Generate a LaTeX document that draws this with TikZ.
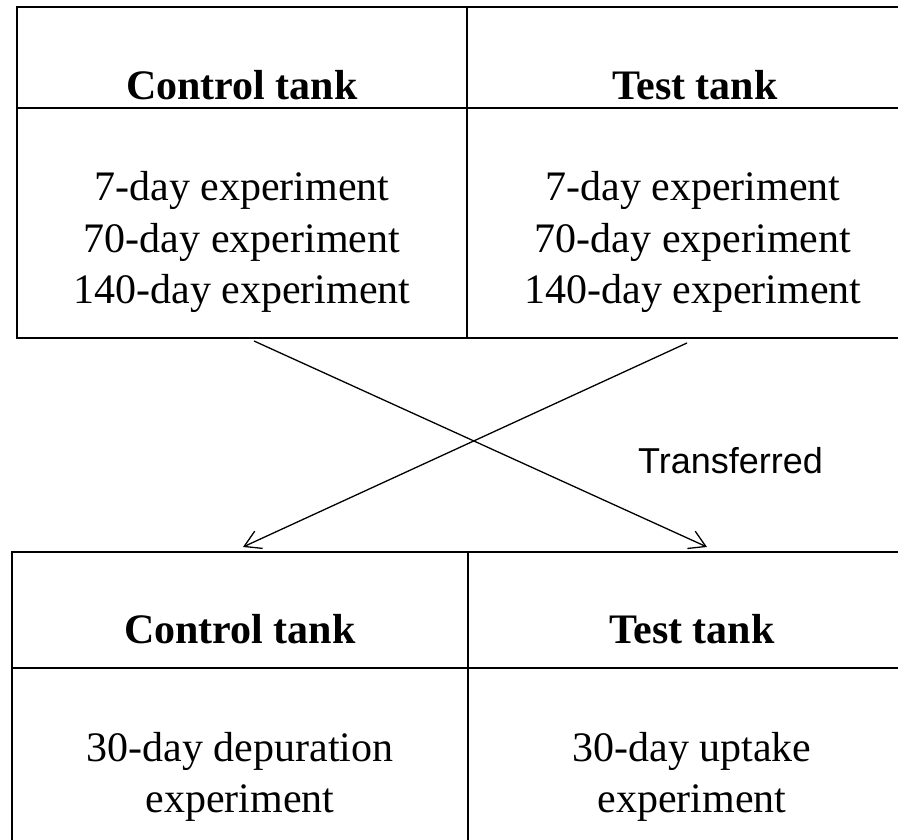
\documentclass[tikz,border=0pt]{standalone}
\usepackage{fontspec}
\setmainfont{Liberation Serif}
\newfontfamily\labelfont{Liberation Sans}
\usetikzlibrary{arrows.meta}
\begin{document}
\begin{tikzpicture}[x=1pt,y=1pt,
  cell/.style={draw, line width=2pt, inner sep=0pt, outer sep=0pt, rectangle},
  headtxt/.style={anchor=base, inner sep=0pt, font=\fontsize{42}{51.5}\selectfont\bfseries},
  bodytxt/.style={anchor=base, inner sep=0pt, align=center, font=\fontsize{42}{51.5}\selectfont},
  conn/.style={line width=1.3pt, -{Straight Barb[length=16pt,width=19pt,line width=1.3pt]}},
  lbl/.style={anchor=base west, inner sep=0pt, font=\labelfont\fontsize{36}{43}\selectfont}]
\useasboundingbox (0,0) rectangle (898,840);
\clip (0,0) rectangle (898,840);
% top table
\node[cell, minimum width=450pt, minimum height=101pt] (tlh) at (242,782.5) {};
\node[cell, minimum width=456pt, minimum height=101pt] (trh) at (695,782.5) {};
\node[cell, minimum width=450pt, minimum height=230pt] (tlb) at (242,617) {};
\node[cell, minimum width=456pt, minimum height=230pt] (trb) at (695,617) {};
\node[headtxt] (t1) at (242,740) {Control tank};
\node[headtxt] (t2) at (695,740) {Test tank};
\node[bodytxt] (b1) at (242,536) {7-day experiment\\70-day experiment\\140-day experiment};
\node[bodytxt] (b2) at (693,536) {7-day experiment\\70-day experiment\\140-day experiment};
% bottom table
\node[cell, minimum width=456pt, minimum height=116pt] (blh) at (240,230) {};
\node[cell, minimum width=448pt, minimum height=116pt] (brh) at (692,230) {};
\node[cell, minimum width=456pt, minimum height=200pt] (blb) at (240,72) {};
\node[cell, minimum width=448pt, minimum height=200pt] (brb) at (692,72) {};
\node[headtxt] (t3) at (240,196) {Control tank};
\node[headtxt] (t4) at (692,196) {Test tank};
\node[bodytxt] (b3) at (240,27) {30-day depuration\\experiment};
\node[bodytxt] (b4) at (692,27) {30-day uptake\\experiment};
% connectors
\coordinate (s1) at (254,499);
\coordinate (e1) at (707,293);
\coordinate (s2) at (687,497);
\coordinate (e2) at (243,293);
\draw[conn] (s1) -- (e1);
\draw[conn] (s2) -- (e2);
\node[lbl] (tr) at (638,366) {Transferred};
\end{tikzpicture}
\end{document}
